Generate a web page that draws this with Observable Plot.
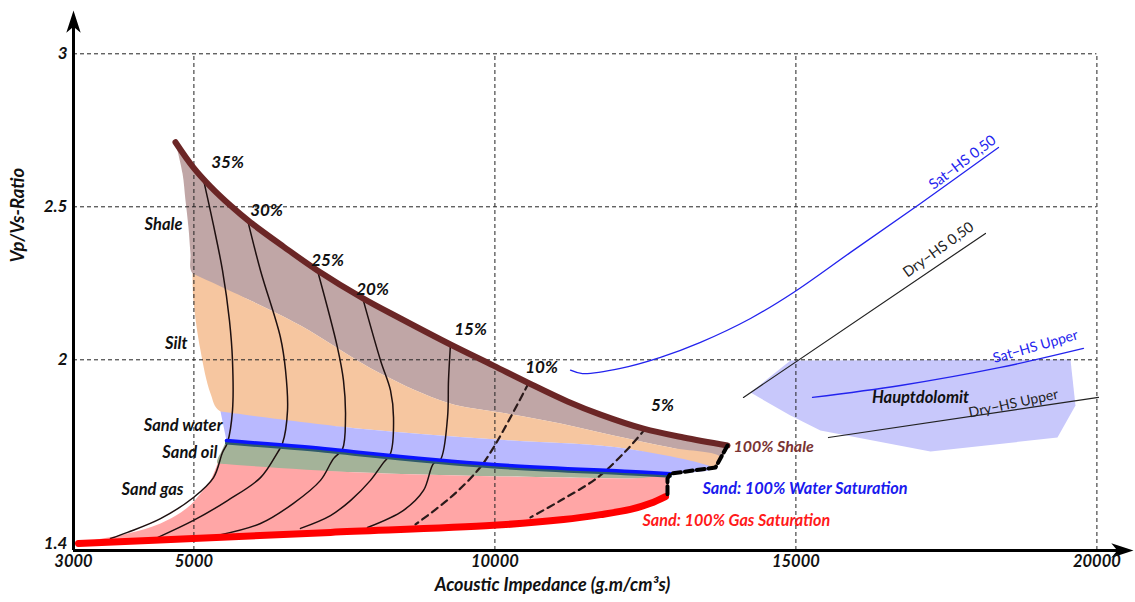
<!DOCTYPE html>
<html>
<head>
<meta charset="utf-8">
<script src="https://cdn.jsdelivr.net/npm/d3@7"></script>
<script src="https://cdn.jsdelivr.net/npm/@observablehq/plot@0.6"></script>
<style>
  body { margin: 0; background: #fff; }
  #chart svg { display: block; }
</style>
</head>
<body>
<div id="chart"></div>
<script>
// ---- Rock-physics template: Vp/Vs vs acoustic impedance ----

// axis ticks
const xTicks = [3000, 5000, 10000, 15000, 20000];
const yTicks = [1.4, 2, 2.5, 3];
const xGrid = [5000, 10000, 15000, 20000];
const yGrid = [2, 2.5, 3];

// 100% shale trend (upper bound of the template)
const shaleTop = [[4694,2.711],[4993,2.628],[5276,2.566],[5608,2.504],[5940,2.449],[6488,2.370],[7053,2.292],[7817,2.200],[8432,2.135],[9262,2.050],[9977,1.981],[10541,1.926],[11206,1.864],[11754,1.821],[12468,1.775],[13133,1.746],[13864,1.720]];
// left edge of the shale band, top to bottom
const shaleLeft = [[4694,2.711],[4811,2.609],[4860,2.521],[4910,2.432],[4943,2.347],[4977,2.282]];
// shale / silt boundary, left to right
const shaleBase = [[4977,2.282],[5940,2.194],[6771,2.112],[8100,1.955],[9213,1.860],[10093,1.828],[11090,1.792],[11970,1.753],[12917,1.713],[13747,1.681]];
// left edge of the silt band, top to bottom
const siltLeft = [[4977,2.282],[4993,2.194],[5110,2.030],[5276,1.890],[5442,1.831]];
// silt / water-sand boundary, left to right
const siltBase = [[5442,1.831],[7767,1.775],[9977,1.740],[12252,1.708],[13631,1.645]];
// sand, 100% water saturation
const waterLine = [[5541,1.736],[7269,1.708],[7767,1.697],[9977,1.658],[12252,1.635],[12917,1.628]];
// oil-sand / gas-sand boundary
const oilBase = [[5392,1.661],[7767,1.632],[12252,1.612],[12867,1.612]];
// sand, 100% gas saturation
const gasLine = [[3083,1.400],[4993,1.416],[7269,1.436],[9977,1.459],[11139,1.478],[11754,1.494],[12252,1.511],[12585,1.531],[12834,1.553]];
// left edge of the gas-sand band, bottom to top
const gasLeft = [[3083,1.403],[3332,1.410],[3897,1.432],[4445,1.465],[4894,1.517],[5110,1.563],[5276,1.606],[5392,1.661]];
// zero-porosity closure (mineral end points)
const closure = [[13864,1.720],[13664,1.648],[12917,1.628],[12867,1.612],[12867,1.550]];

// iso-porosity curves
const porosityNames = ["35%", "30%", "25%", "20%", "15%", "10%", "5%"];
const porosityCurves = [
  [[5159,2.589],[5326,2.439],[5475,2.292],[5591,2.128],[5641,1.998],[5641,1.834],[5558,1.730],[5475,1.697],[5326,1.615],[4993,1.550],[4445,1.481],[3897,1.436],[3615,1.416]],
  [[5890,2.458],[6106,2.292],[6438,2.073],[6522,1.966],[6555,1.834],[6472,1.727],[6389,1.697],[6106,1.615],[5558,1.540],[4993,1.475],[4395,1.419]],
  [[7053,2.292],[7385,2.040],[7485,1.932],[7518,1.811],[7468,1.708],[7319,1.677],[7103,1.606],[6654,1.531],[6106,1.465],[5392,1.426]],
  [[7801,2.204],[8100,1.998],[8266,1.900],[8316,1.811],[8266,1.694],[8149,1.664],[7933,1.606],[7601,1.540],[7269,1.491],[6771,1.449]],
  [[9262,2.050],[9229,1.932],[9213,1.811],[9096,1.674],[8980,1.661],[8814,1.573],[8482,1.508],[7884,1.452]],
  [[10558,1.923],[9977,1.713],[9711,1.638],[9262,1.550],[8681,1.462]],
  [[12501,1.775],[12203,1.708],[11704,1.615],[11090,1.540],[10591,1.485]]
];
const porosityLabelX = [5558, 6206, 7219, 7967, 9595, 10774, 12784];
const porosityLabelY = [2.645, 2.488, 2.325, 2.230, 2.099, 1.975, 1.851];

// Hauptdolomit data cloud
const hauptdolomit = [[14246,1.893],[14910,1.998],[19561,2.001],[19644,1.851],[19345,1.746],[17236,1.700],[15408,1.769],[14910,1.818]];

// Hashin-Shtrikman bounds
const satHS050 = [[11256,1.966],[11455,1.955],[12086,1.972],[12751,2.008],[13415,2.057],[14246,2.135],[14960,2.220],[15907,2.351],[17070,2.511],[18365,2.694]];
const dryHS050 = [[14129,1.877],[18149,2.413]];
const satHSUpper = [[15276,1.877],[16737,1.916],[18398,1.975],[19777,2.037]];
const dryHSUpper = [[15541,1.746],[20026,1.877]];

// facies labels
const faciesNames = ["Shale", "Silt", "Sand water", "Sand oil", "Sand gas"];
const faciesX = [4811, 4894, 5475, 5392, 4827];
const faciesY = [2.442, 2.053, 1.785, 1.697, 1.576];

// --------------------------------------------------------------
const FONT = "Lato, 'Open Sans', sans-serif";
const xDomain = [3000, 20608];
const yDomain = [1.3768, 3.1415];
const rev = a => [...a].reverse();
const px = d => d[0], py = d => d[1];

const shalePoly = [...shaleTop, ...rev(shaleBase), ...rev(shaleLeft).slice(1)];
const siltPoly = [...shaleBase, [13631,1.645], ...rev(siltBase).slice(1), ...rev(siltLeft).slice(1)];
const waterPoly = [...siltBase, [12917,1.628], ...rev(waterLine).slice(1)];
const oilPoly = [...waterLine, [12867,1.612], ...rev(oilBase).slice(1), [5442,1.694]];
const gasPoly = [...oilBase, ...rev(gasLine), ...gasLeft.slice(1)];

// arrowhead used at the end of both axes
const stealth = {
  draw(ctx, size) {
    const r = Math.sqrt(size / Math.PI);
    ctx.moveTo(0, -r);
    ctx.lineTo(0.6 * r, 0.85 * r);
    ctx.lineTo(0, 0.35 * r);
    ctx.lineTo(-0.6 * r, 0.85 * r);
    ctx.closePath();
  }
};

const fillArea = (pts, color) => Plot.line(pts, {x: px, y: py, fill: color, stroke: "none", curve: "catmull-rom"});
const bold = {fontFamily: FONT, fontWeight: "bold", fontStyle: "italic"};

const chart = Plot.plot({
  width: 1135,
  height: 602,
  marginTop: 10,
  marginBottom: 52,
  marginLeft: 73,
  marginRight: 2,
  x: {domain: xDomain},
  y: {domain: yDomain},
  style: {fontFamily: FONT, background: "#fff", color: "#111"},
  marks: [
    // facies fills
    fillArea(shalePoly, "#c0a6a6"),
    fillArea(siltPoly, "#f6c6a0"),
    fillArea(waterPoly, "#b9b9ff"),
    fillArea(oilPoly, "#a4b399"),
    fillArea(gasPoly, "#ffa6a6"),
    Plot.line(hauptdolomit, {x: px, y: py, fill: "#c8c8fb", stroke: "none"}),

    // grid
    Plot.ruleX(xGrid, {y1: yDomain[0], y2: 3, stroke: "#222", strokeWidth: 1, strokeDasharray: "4,3"}),
    Plot.ruleY(yGrid, {x1: xDomain[0], x2: 20000, stroke: "#222", strokeWidth: 1, strokeDasharray: "4,3"}),

    // iso-porosity curves (solid for 35–15 %, dashed for 10 % and 5 %)
    ...porosityCurves.map((c, i) => Plot.line(c, {
      x: px, y: py, curve: "catmull-rom",
      stroke: i < 5 ? "#1e1010" : "#2a1a1a",
      strokeWidth: i < 5 ? 1.5 : 2.2,
      strokeDasharray: i < 5 ? null : "7,5"
    })),

    // bounding trends
    Plot.line(shaleTop, {x: px, y: py, stroke: "#6b2626", strokeWidth: 6, curve: "catmull-rom", strokeLinecap: "round"}),
    Plot.line(waterLine, {x: px, y: py, stroke: "#2e5a6a", strokeWidth: 3, curve: "catmull-rom", dy: 2.5}),
    Plot.line(waterLine, {x: px, y: py, stroke: "#0a14ff", strokeWidth: 3.5, curve: "catmull-rom"}),
    Plot.line(gasLine, {x: px, y: py, stroke: "#ff0000", strokeWidth: 7, curve: "catmull-rom"}),
    Plot.line(closure, {x: px, y: py, stroke: "#000", strokeWidth: 4, strokeDasharray: "8,4"}),

    // Hashin-Shtrikman bounds
    Plot.line(satHS050, {x: px, y: py, stroke: "#2323ee", strokeWidth: 1.3, curve: "catmull-rom"}),
    Plot.line(dryHS050, {x: px, y: py, stroke: "#222", strokeWidth: 1.2}),
    Plot.line(satHSUpper, {x: px, y: py, stroke: "#2323ee", strokeWidth: 1.3, curve: "catmull-rom"}),
    Plot.line(dryHSUpper, {x: px, y: py, stroke: "#222", strokeWidth: 1.2}),

    // axes lines with arrowheads
    Plot.ruleX([xDomain[0]], {y1: yDomain[0], y2: yDomain[1] - 0.03, stroke: "#000", strokeWidth: 3}),
    Plot.ruleY([yDomain[0]], {x1: xDomain[0], x2: xDomain[1] - 200, stroke: "#000", strokeWidth: 3}),
    Plot.dot([0], {x: () => xDomain[0], y: () => yDomain[1], dy: 12, r: 12, symbol: stealth, fill: "#000", stroke: "none"}),
    Plot.dot([0], {x: () => xDomain[1], y: () => yDomain[0], dx: -12, r: 12, symbol: stealth, rotate: 90, fill: "#000", stroke: "none"}),

    Plot.axisX({ticks: xTicks, tickSize: 0, tickPadding: 5, tickFormat: d => String(d), label: null, fontSize: 16.5, ...bold, fill: "#111"}),
    Plot.axisY({ticks: yTicks, tickSize: 0, tickPadding: 6, tickFormat: d => String(d), label: null, fontSize: 17, ...bold, fill: "#111"}),

    Plot.text(["Acoustic Impedance (g.m/cm³s)"], {x: () => 10957, frameAnchor: "bottom", dy: 40, fontSize: 18, ...bold, fill: "#111"}),
    Plot.text(["Vp/Vs-Ratio"], {y: () => 2.318, frameAnchor: "left", dx: -55, rotate: -90, fontSize: 18.5, ...bold, fill: "#111"}),

    // porosity labels
    Plot.text(porosityNames, {x: (d, i) => porosityLabelX[i], y: (d, i) => porosityLabelY[i], text: d => d, fontSize: 17, ...bold, fill: "#111"}),
    // facies labels
    Plot.text(faciesNames, {x: (d, i) => faciesX[i], y: (d, i) => faciesY[i], text: d => d, textAnchor: "end", fontSize: 16.5, ...bold, fill: "#111"}),

    // end-member labels
    Plot.text(["100% Shale"], {x: () => 13963, y: () => 1.717, textAnchor: "start", fontSize: 16, ...bold, fill: "#7a3333"}),
    Plot.text(["Sand: 100% Water Saturation"], {x: () => 13448, y: () => 1.579, textAnchor: "start", fontSize: 16.3, ...bold, fill: "#1a1aee"}),
    Plot.text(["Sand: 100% Gas Saturation"], {x: () => 12452, y: () => 1.475, textAnchor: "start", fontSize: 16.2, ...bold, fill: "#ff1a1a"}),
    Plot.text(["Hauptdolomit"], {x: () => 17070, y: () => 1.877, fontSize: 16.5, ...bold, fill: "#111"}),

    // bound labels
    Plot.text(["Sat−HS 0,50"], {x: () => 17767, y: () => 2.645, rotate: -37, fontSize: 14.5, fontFamily: FONT, fill: "#2323ee"}),
    Plot.text(["Dry−HS 0,50"], {x: () => 17368, y: () => 2.360, rotate: -36, fontSize: 14.5, fontFamily: FONT, fill: "#222"}),
    Plot.text(["Sat−HS Upper"], {x: () => 18980, y: () => 2.043, rotate: -16, fontSize: 14, fontFamily: FONT, fill: "#2323ee"}),
    Plot.text(["Dry−HS Upper"], {x: () => 18614, y: () => 1.857, rotate: -12, fontSize: 14, fontFamily: FONT, fill: "#222"})
  ]
});

document.getElementById("chart").appendChild(chart);
</script>
</body>
</html>
